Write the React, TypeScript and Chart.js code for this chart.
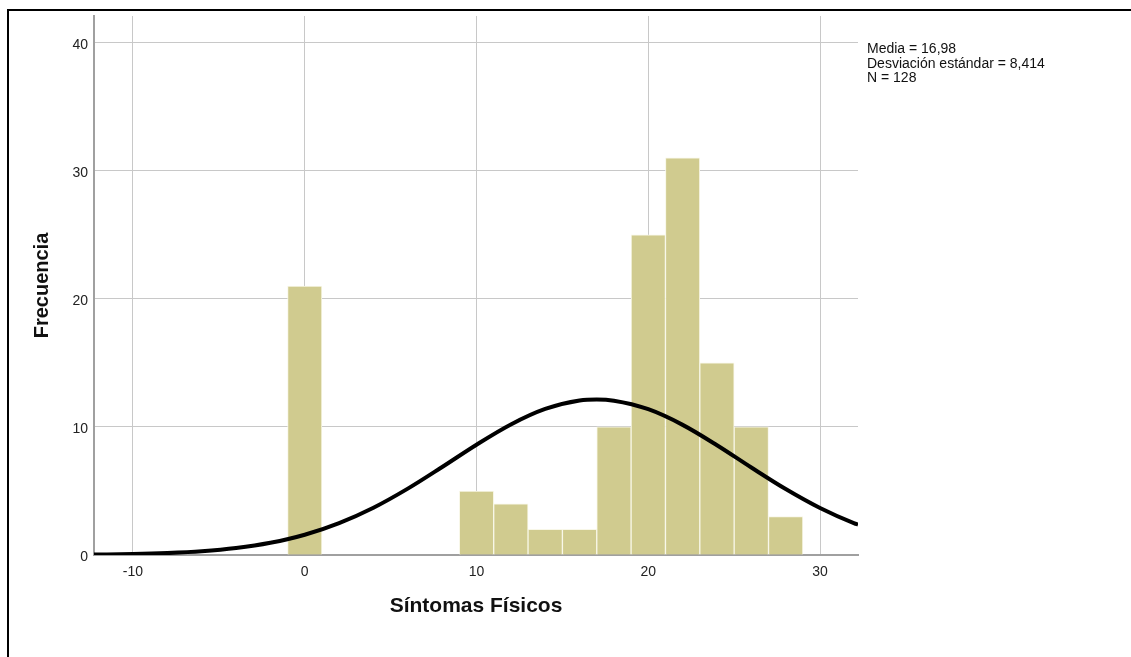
import React, { useEffect, useRef } from "react";
import { Chart, registerables } from "chart.js";

Chart.register(...registerables);

// Histogram bins (centres) and frequencies
const binCenters = [0, 10, 12, 14, 16, 18, 20, 22, 24, 26, 28];
const frequencies = [21, 5, 4, 2, 2, 10, 25, 31, 15, 10, 3];

// Normal curve
const curveX = [-12.27, -10, -8, -6, -4, -2, 0, 2, 4, 6, 8, 10, 12, 14, 16, 17, 18, 20, 22, 24, 26, 28, 30, 32, 32.21];
const curveY = [0.03, 0.07, 0.15, 0.29, 0.54, 0.95, 1.58, 2.49, 3.69, 5.18, 6.87, 8.61, 10.19, 11.4, 12.06, 12.14, 12.05, 11.38, 10.16, 8.57, 6.83, 5.15, 3.67, 2.47, 2.37];

const statsLines = ["Media = 16,98", "Desviación estándar = 8,414", "N = 128"];
const xTitle = "Síntomas Físicos";
const yTitle = "Frecuencia";

const W = 1131;
const H = 657;

const decorPlugin = {
  id: "decor",
  beforeDraw(chart: any) {
    const ctx = chart.ctx;
    ctx.save();
    ctx.fillStyle = "#ffffff";
    ctx.fillRect(0, 0, W, H);
    ctx.fillStyle = "#000000";
    ctx.fillRect(7, 9, W - 7, 2);
    ctx.fillRect(7, 9, 2, H - 9);
    ctx.restore();
  },
  afterDraw(chart: any) {
    const ctx = chart.ctx;
    ctx.save();
    ctx.fillStyle = "#111111";
    ctx.font = '14px "Liberation Sans", Arial, sans-serif';
    ctx.textAlign = "left";
    ctx.textBaseline = "alphabetic";
    statsLines.forEach((t, i) => {
      ctx.fillText(t, 867, 53 + i * 14.5);
    });
    ctx.restore();
  },
};

export default function App() {
  const ref = useRef<HTMLCanvasElement | null>(null);

  useEffect(() => {
    if (!ref.current) return;
    const chart = new Chart(ref.current, {
      type: "bar",
      data: {
        datasets: [
          {
            type: "line",
            data: curveX.map((x, i) => ({ x, y: curveY[i] })),
            borderColor: "#000000",
            borderWidth: 4,
            pointRadius: 0,
            fill: false,
            cubicInterpolationMode: "monotone",
          } as any,
          {
            type: "bar",
            data: binCenters.map((x, i) => ({ x, y: frequencies[i] })),
            backgroundColor: "rgb(208,203,143)",
            borderColor: "rgba(248,247,232,1)",
            borderWidth: 1,
            barPercentage: 1,
            categoryPercentage: 1,
          } as any,
        ],
      },
      options: {
        responsive: false,
        animation: false,
        devicePixelRatio: 1,
        layout: { padding: { left: 0, top: 16, right: W - 858, bottom: 0 } },
        plugins: {
          legend: { display: false },
          tooltip: { enabled: false },
        },
        scales: {
          x: {
            type: "linear",
            min: -12.27,
            max: 32.21,
            offset: false,
            grid: { color: "#c8c8c8", lineWidth: 1, drawTicks: false, offset: false },
            border: { color: "#a0a0a0", width: 2 },
            ticks: {
              stepSize: 10,
              includeBounds: false,
              padding: 9,
              color: "#222222",
              font: { family: '"Liberation Sans", Arial, sans-serif', size: 14 },
            },
            title: {
              display: true,
              text: xTitle,
              color: "#111111",
              font: { family: '"Liberation Sans", Arial, sans-serif', size: 21, weight: "bold" },
              padding: { top: 0, bottom: 38 },
            },
            afterFit(scale: any) {
              scale.height = H - 555;
            },
          },
          y: {
            type: "linear",
            min: 0,
            max: 42.08,
            grid: { color: "#c8c8c8", lineWidth: 1, drawTicks: false },
            border: { color: "#a0a0a0", width: 2 },
            ticks: {
              stepSize: 10,
              includeBounds: false,
              padding: 6,
              labelOffset: 2,
              color: "#222222",
              font: { family: '"Liberation Sans", Arial, sans-serif', size: 14 },
            },
            title: {
              display: true,
              text: yTitle,
              color: "#111111",
              font: { family: '"Liberation Sans", Arial, sans-serif', size: 20, weight: "bold" },
              padding: { top: 30, bottom: 0 },
            },
            afterFit(scale: any) {
              scale.width = 94;
            },
          },
        },
      } as any,
      plugins: [decorPlugin],
    });
    return () => chart.destroy();
  }, []);

  return (
    <div style={{ position: "absolute", left: 0, top: 0, width: W, height: H, background: "#fff", overflow: "hidden" }}>
      <canvas ref={ref} width={W} height={H} style={{ display: "block", width: W, height: H }} />
    </div>
  );
}
